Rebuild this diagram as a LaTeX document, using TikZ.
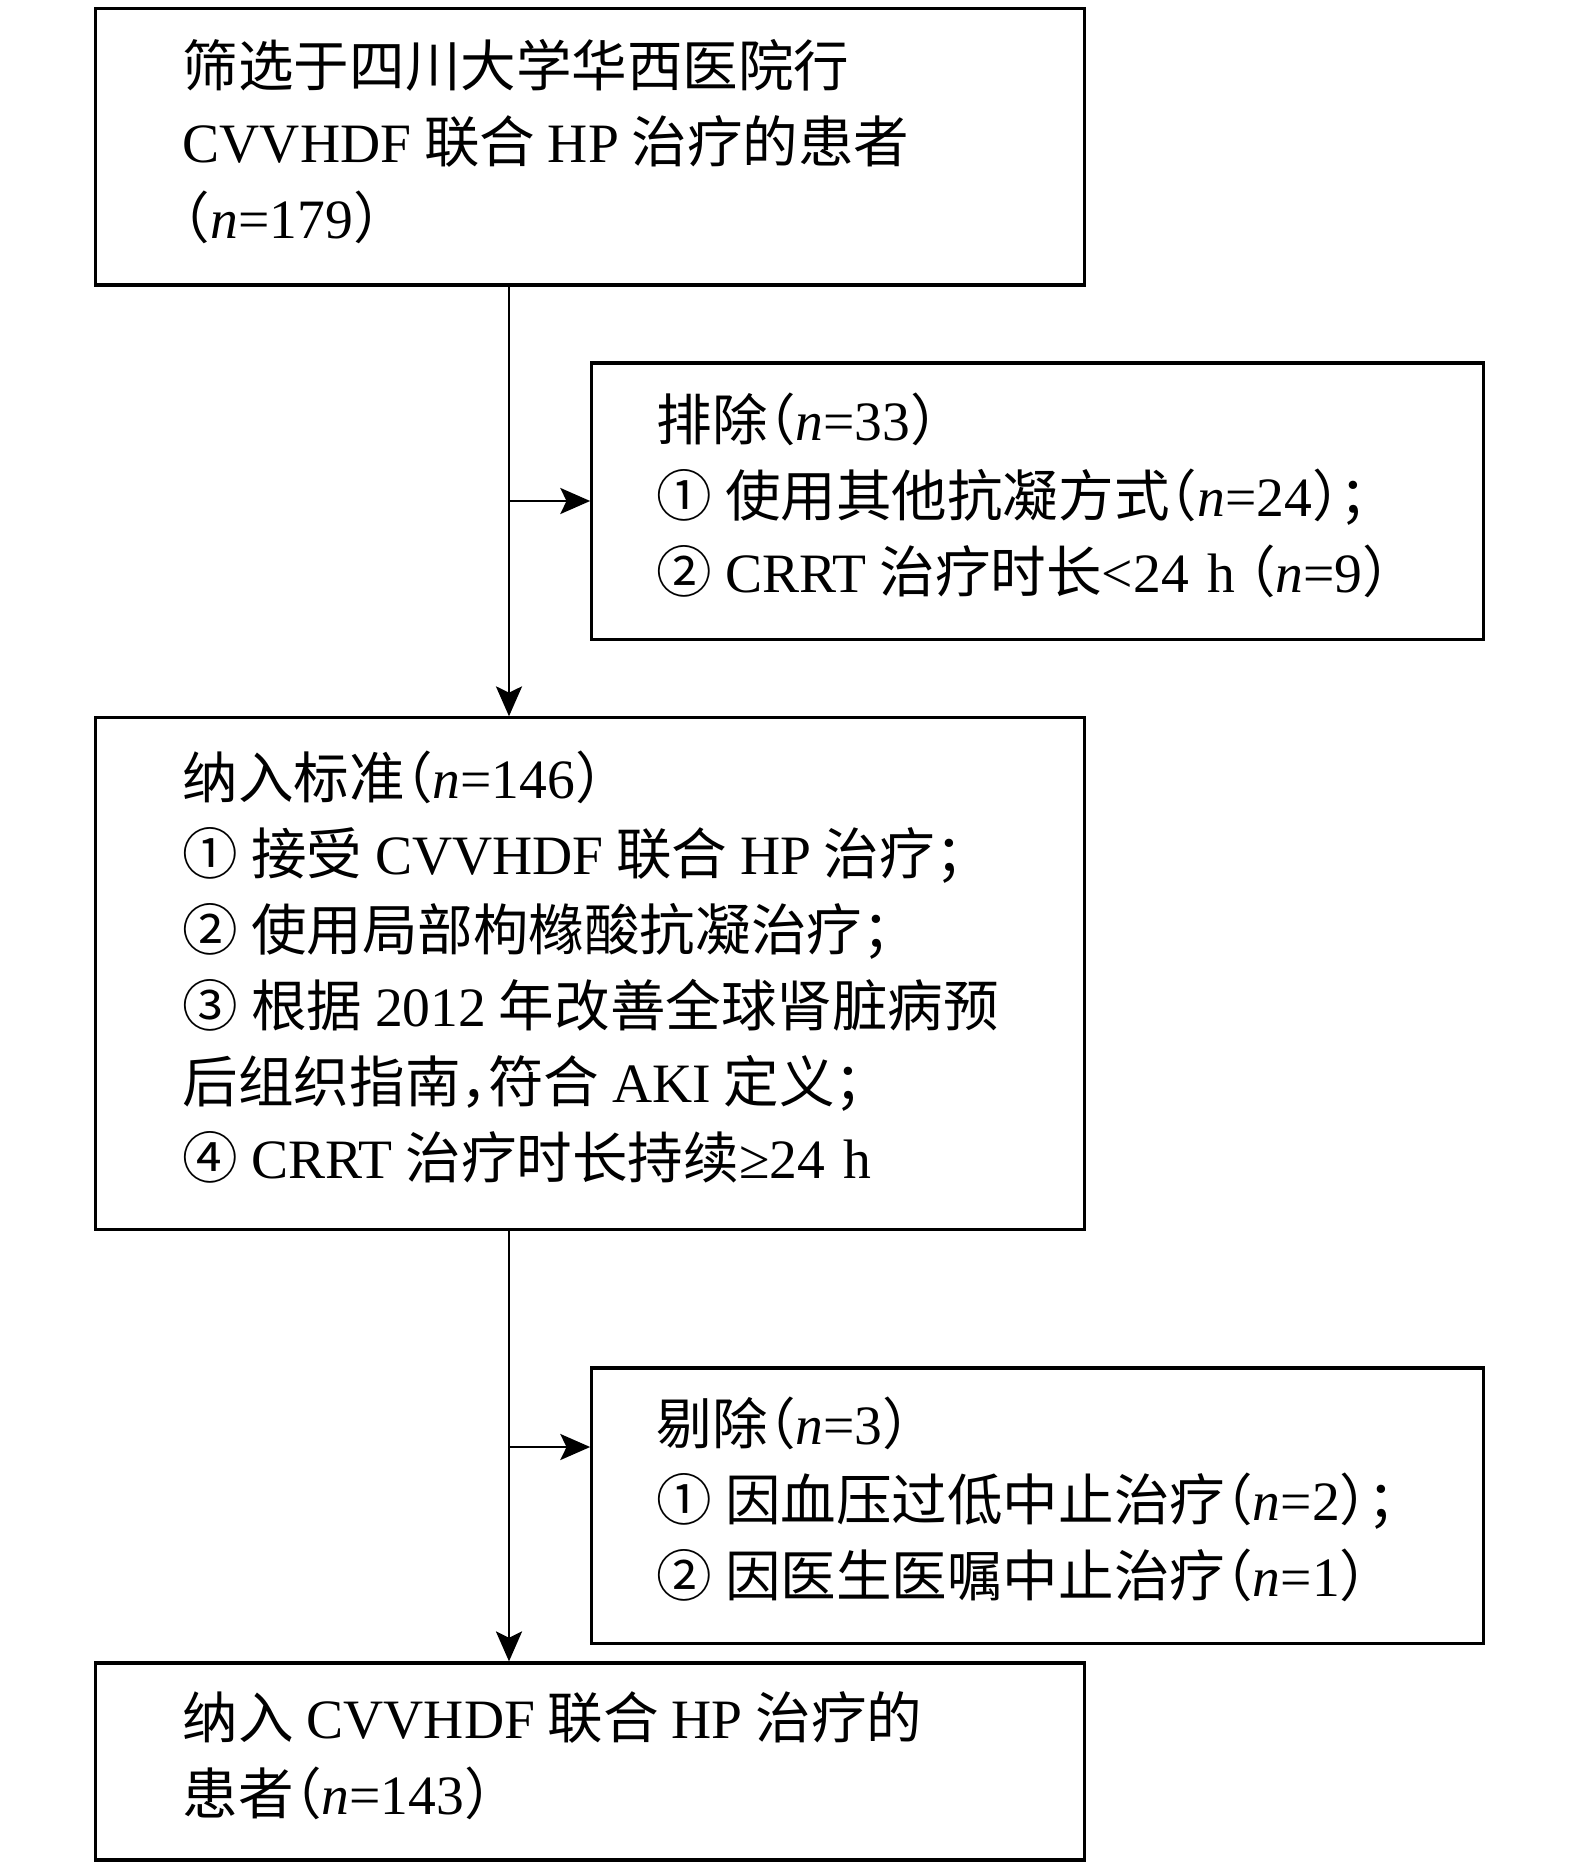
\documentclass[tikz,border=0pt]{standalone}
\usepackage{fontspec}
\setmainfont{Liberation Serif}
\newfontfamily\cjkfont[RawFeature=+halt]{Noto Sans CJK SC}
\usetikzlibrary{arrows.meta}

% Chinese characters in the CJK font, the rest in the serif
\XeTeXinterchartokenstate=1
\newXeTeXintercharclass\cjkclass
\newcount\cjkcode
\newcommand\cjkrange[2]{%
  \cjkcode=#1\relax
  \loop
    \XeTeXcharclass\cjkcode=\cjkclass
    \ifnum\cjkcode<#2\relax
    \advance\cjkcode by 1
  \repeat}
\cjkrange{"2460}{"2473}
\cjkrange{"3000}{"303F}
\cjkrange{"4E00}{"9FFF}
\cjkrange{"FF00}{"FFEF}
\XeTeXinterchartoks 0 \cjkclass = {\cjkfont}
\XeTeXinterchartoks 4095 \cjkclass = {\cjkfont}
\XeTeXinterchartoks \cjkclass 0 = {\rmfamily}
\XeTeXinterchartoks \cjkclass 4095 = {\rmfamily}

\newcommand\rows[1]{\begin{tabular}{@{}l@{}}#1\end{tabular}}
\newcommand\gap{\kern.23em}

\begin{document}
\begin{tikzpicture}[x=0.01cm, y=-0.01cm,
  >={Stealth[length=8.5pt, width=7.4pt, inset=1.8pt]},
  stage/.style={rectangle, draw, line width=0.9pt, minimum width=9.88cm,
    text width=8.14cm, inner xsep=0.87cm, align=left,
    font=\fontsize{15.8pt}{21.6pt}\selectfont},
  drop/.style={stage, minimum width=8.91cm, text width=7.61cm, inner xsep=0.65cm},
  flow/.style={->, line width=0.8pt}]
  \useasboundingbox (0,0) rectangle (1575,1870);

  % Create the nodes
  \node (screen) [stage, minimum height=2.76cm] at (590,147) {\rows{%
    筛选于四川大学华西医院行\\
    CVVHDF\gap 联合\gap HP\gap 治疗的患者\\
    （\textit{n}=179）}};
  \node (excl) [drop, minimum height=2.76cm] at (1037.5,501) {\rows{%
    排除（\textit{n}=33）\\
    ①\gap 使用其他抗凝方式（\textit{n}=24）；\\
    ②\gap CRRT\gap 治疗时长<24 h\gap （\textit{n}=9）}};
  \node (incl) [stage, minimum height=5.11cm] at (590,973.5) {\rows{%
    纳入标准（\textit{n}=146）\\
    ①\gap 接受\gap CVVHDF\gap 联合\gap HP\gap 治疗；\\
    ②\gap 使用局部枸橼酸抗凝治疗；\\
    ③\gap 根据\gap 2012\gap 年改善全球肾脏病预\\
    后组织指南，符合\gap AKI\gap 定义；\\
    ④\gap CRRT\gap 治疗时长持续≥24 h}};
  \node (remove) [drop, minimum height=2.75cm] at (1037.5,1505.5) {\rows{%
    剔除（\textit{n}=3）\\
    ①\gap 因血压过低中止治疗（\textit{n}=2）；\\
    ②\gap 因医生医嘱中止治疗（\textit{n}=1）}};
  \node (final) [stage, minimum height=1.97cm] at (590,1761.5) {\rows{%
    纳入\gap CVVHDF\gap 联合\gap HP\gap 治疗的\\
    患者（\textit{n}=143）}};

  \coordinate (trunk) at (509,0);
  \coordinate (cut) at (509,1447);

  \draw [flow] (screen.south -| trunk) -- (incl.north -| trunk);
  \draw [flow] (excl.west -| trunk) -- (excl.west);
  \draw [flow] (incl.south -| trunk) -- (final.north -| trunk);
  \draw [flow] (cut) -- (cut -| remove.west);
\end{tikzpicture}
\end{document}
